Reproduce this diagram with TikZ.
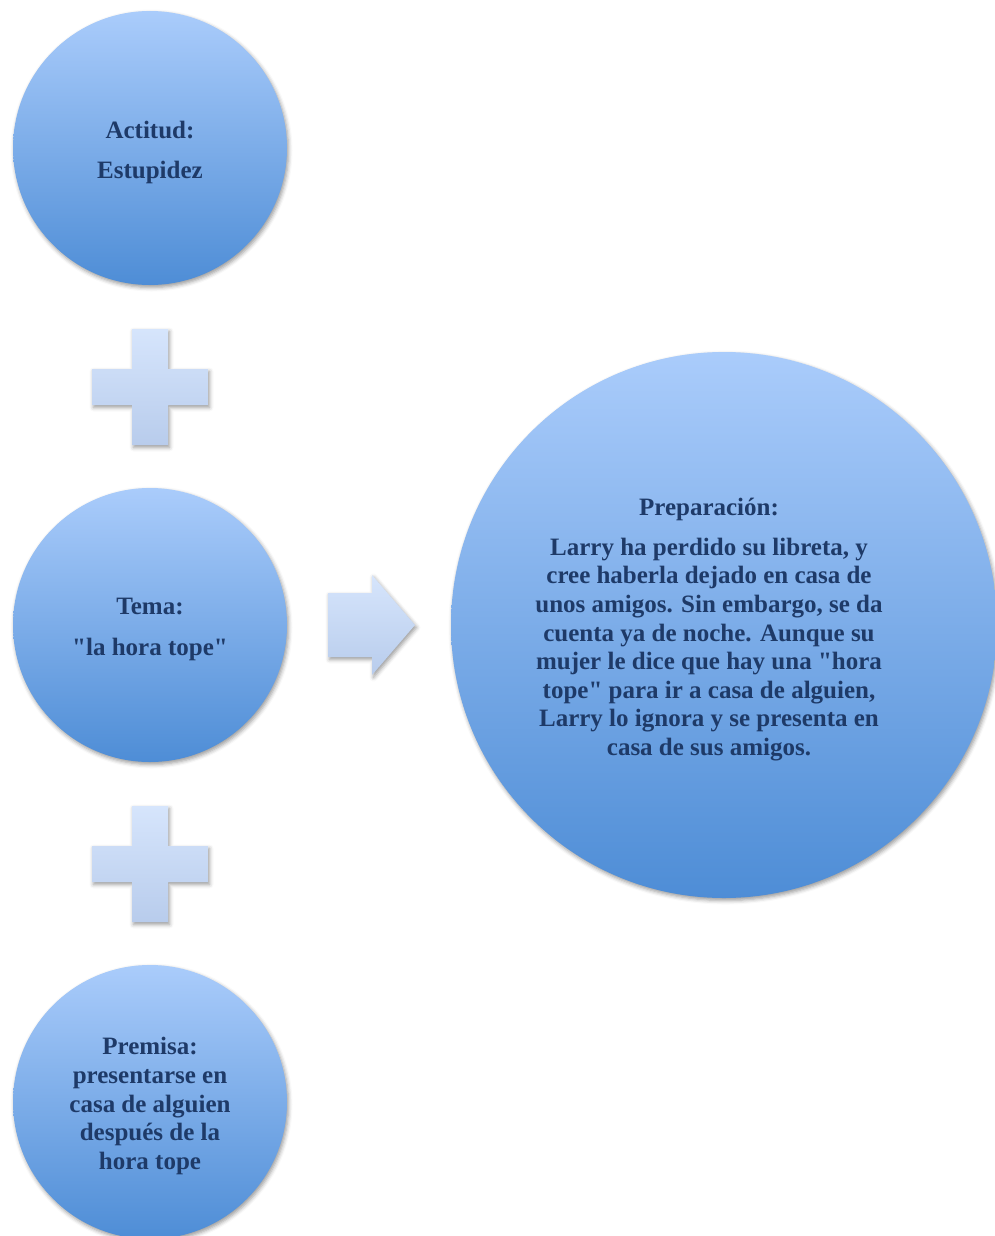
\documentclass[tikz,border=0pt]{standalone}
\usepackage{fontspec}
\setmainfont{Liberation Serif}[Ligatures=TeXOff]
\usetikzlibrary{shadows.blur}
\definecolor{ctop}{RGB}{170,204,251}
\definecolor{cbot}{RGB}{78,141,214}
\definecolor{ptop}{RGB}{214,229,252}
\definecolor{pbot}{RGB}{184,204,236}
\definecolor{txt}{RGB}{30,58,104}
\tikzset{
  softshadow/.style={blur shadow={shadow xshift=1.5pt, shadow yshift=-2.5pt, shadow blur radius=4pt, shadow opacity=40}},
  bubble/.style={circle, minimum size=274pt, inner sep=0pt, top color=ctop, bottom color=cbot, softshadow},
  bigbubble/.style={bubble, minimum size=546pt},
  label text/.style={text=txt, font=\bfseries\fontsize{25}{28.6}\selectfont, align=center, inner sep=0pt},
  symb/.style={top color=ptop, bottom color=pbot, softshadow},
  plussign/.pic={\path[symb] (-18,-58) -- (18,-58) -- (18,-18) -- (58,-18) -- (58,18) -- (18,18) -- (18,58) -- (-18,58) -- (-18,18) -- (-58,18) -- (-58,-18) -- (-18,-18) -- cycle;},
}
\begin{document}
\begin{tikzpicture}[x=1pt,y=-1pt]
\useasboundingbox (0,0) rectangle (995,1236);
\node[bubble] (c1) at (150,148) {};
\node[label text] (t1) at (150,152) {Actitud:\\[11.4pt]Estupidez};
\pic (p1) at (150,387) {plussign};
\node[bubble] (c2) at (150,625) {};
\node[label text] (t2) at (150,629.5) {Tema:\\[12.4pt]"la hora tope"};
\pic (p2) at (150,864) {plussign};
\node[bubble] (c3) at (150,1102) {};
\node[label text] (t3) at (150,1106) {Premisa:\\presentarse en\\casa de alguien\\después de la\\hora tope};
\node[bigbubble] (c4) at (724,625) {};
\path[symb] (328,593) -- (372,593) -- (372,575) -- (415,625) -- (372,675) -- (372,657) -- (328,657) -- cycle;
\node[label text] (t4) at (709,629.5) {Preparación:\\[11.4pt]Larry ha perdido su libreta, y\\cree haberla dejado en casa de\\unos amigos. Sin embargo, se da\\cuenta ya de noche. Aunque su\\mujer le dice que hay una "hora\\tope" para ir a casa de alguien,\\Larry lo ignora y se presenta en\\casa de sus amigos.};
\end{tikzpicture}
\end{document}
